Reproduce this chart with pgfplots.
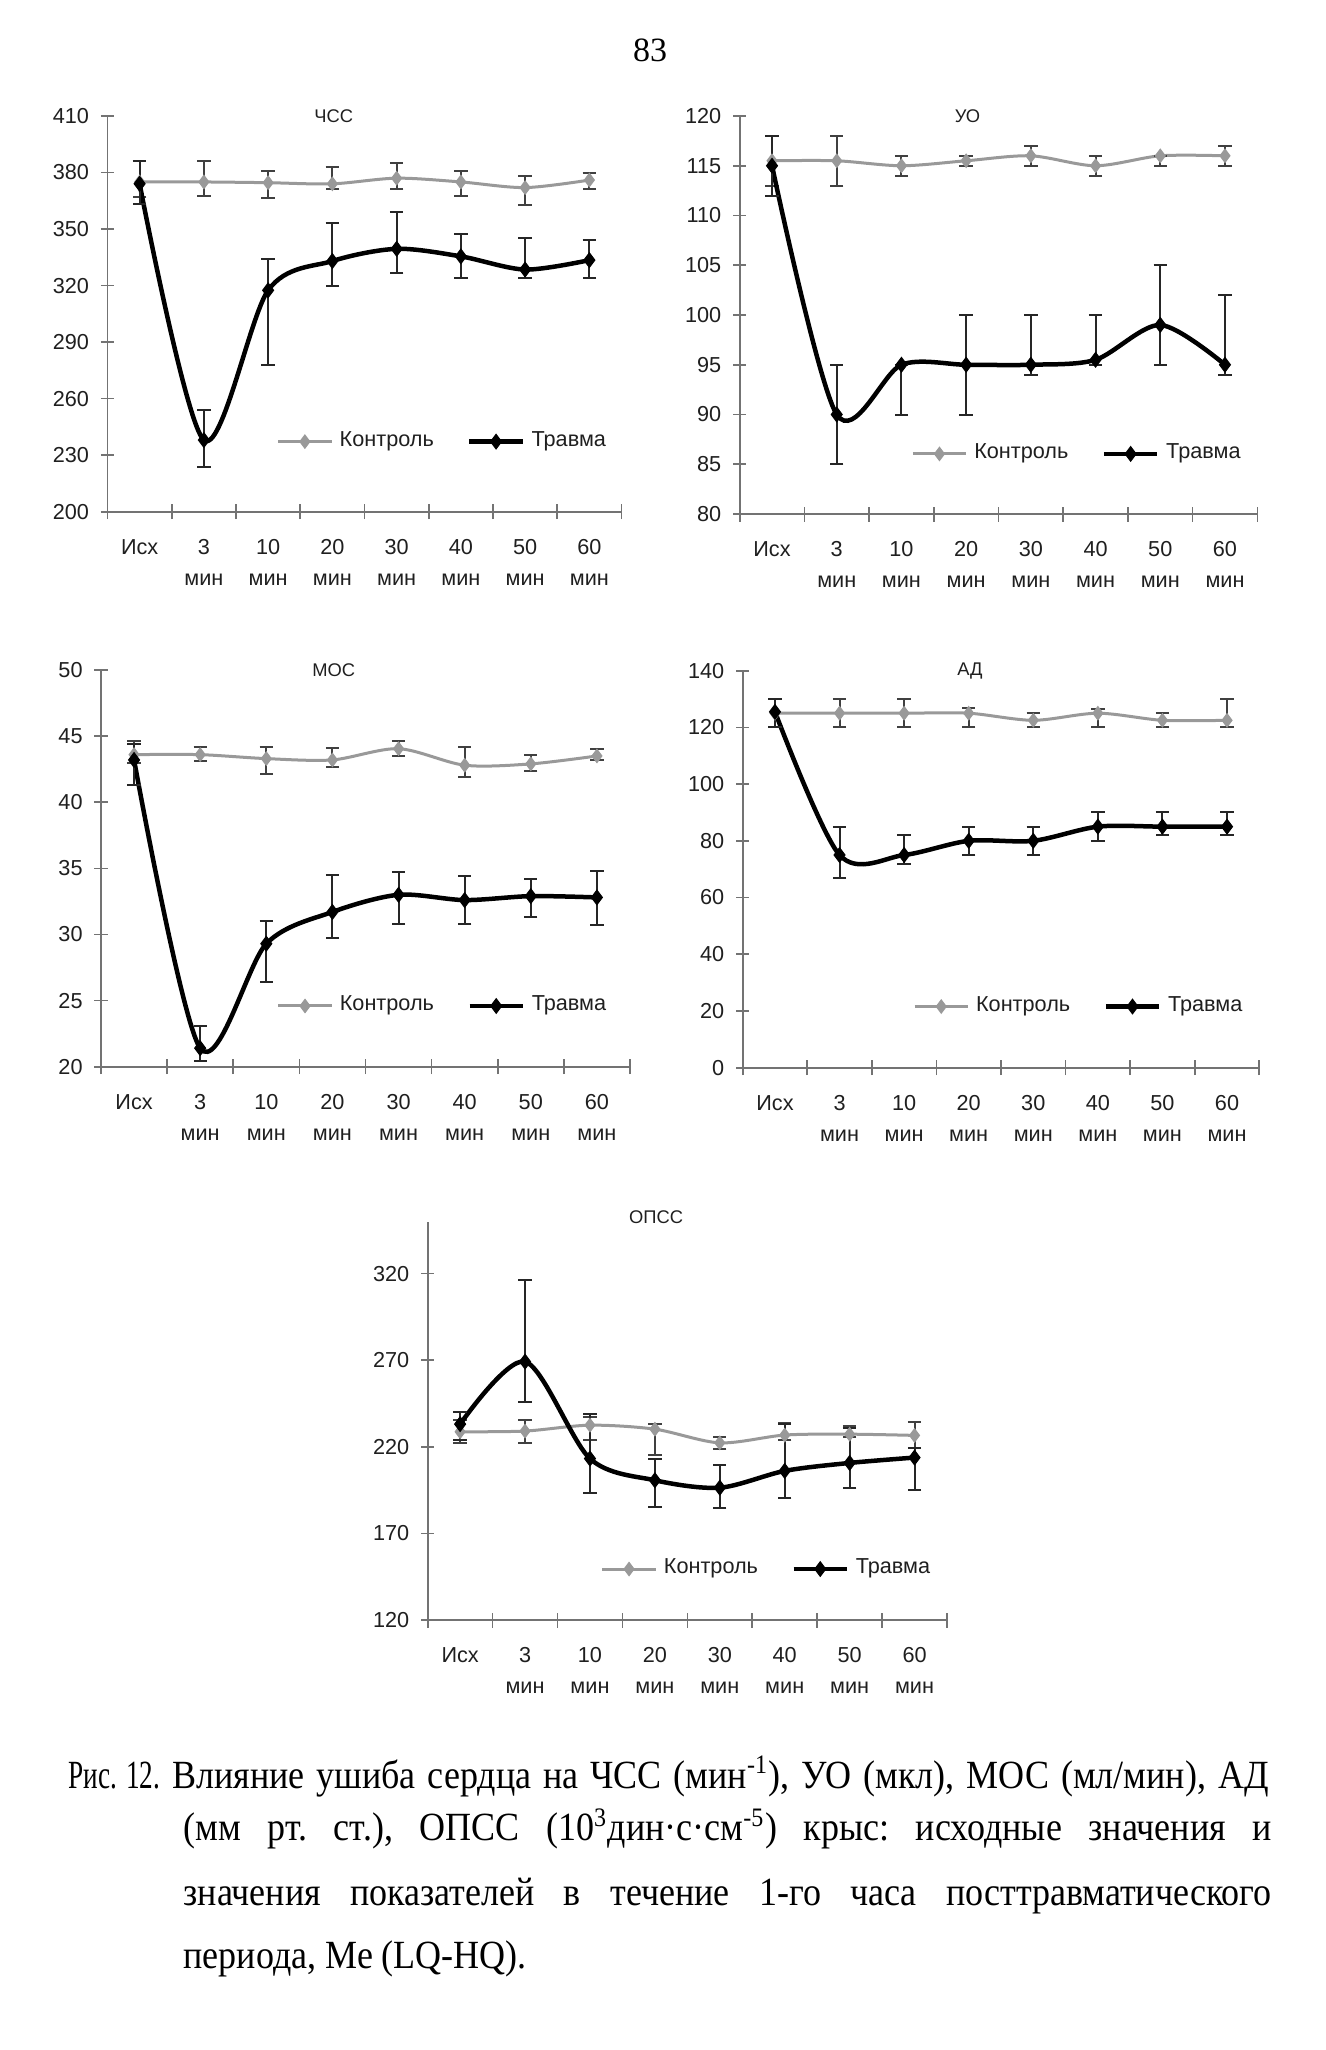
\documentclass[border=0pt]{standalone}
\usepackage{fontspec}
\setmainfont{Liberation Serif}
\newfontfamily\arial{Liberation Sans}
\newfontfamily\capfont[FakeStretch=0.9]{Liberation Serif}
\newfontfamily\risfont[FakeStretch=0.68]{Liberation Serif}
\usepackage{pgfplots}
\pgfplotsset{compat=1.18}
\definecolor{ctrl}{gray}{0.6}
\definecolor{axgray}{gray}{0.45}
\definecolor{txt}{gray}{0.12}
\pgfplotsset{
  panel/.style={
    scale only axis,
    axis lines*=left,
    axis line style={axgray, line width=0.5pt},
    xmin=-0.5, xmax=7.5,
    xtick={0,...,7},
    xticklabels={Исх, 3\\мин, 10\\мин, 20\\мин, 30\\мин, 40\\мин, 50\\мин, 60\\мин},
    major x tick style={draw=none},
    minor xtick={-0.5,0.5,...,7.5},
    minor tick length=4.5pt,
    major tick length=4pt,
    tick align=center,
    tick style={axgray, line width=0.5pt},
    xticklabel style={font=\arial\fontsize{6.5}{9.3}\selectfont, align=center, anchor=north, text=txt, yshift=-2.7pt},
    yticklabel style={font=\arial\fontsize{6.5}{8}\selectfont, text=txt},
    /pgf/number format/assume math mode=true,
    every axis title shift=0pt,
    title style={font=\arial\fontsize{5.5}{6}\selectfont, at={(axis description cs:0.44,1)}, anchor=center, text=txt},
    legend style={draw=none, fill=none, legend columns=2, font=\arial\fontsize{6.5}{8}\selectfont, anchor=center, text=txt,
      /tikz/every even column/.append style={column sep=8pt}},
    legend image code/.code={\draw[mark repeat=2,mark phase=2] plot coordinates {(0pt,0pt)(8pt,0pt)(16pt,0pt)};},
    clip=false,
  },
  ctrlplot/.style={ctrl, line width=0.9pt, smooth, mark=diamond*, mark size=2pt,
    mark options={fill=ctrl, draw=ctrl, line width=0.3pt},
    error bars/y dir=both, error bars/y explicit,
    error bars/error mark options={rotate=90, mark size=2pt, line width=0.6pt, black!75},
    error bars/error bar style={line width=0.6pt, black!75}},
  trplot/.style={black, line width=1.35pt, smooth, mark=diamond*, mark size=2.2pt,
    mark options={fill=black, draw=black, line width=0.3pt},
    error bars/y dir=both, error bars/y explicit,
    error bars/error mark options={rotate=90, mark size=2pt, line width=0.6pt, black!85},
    error bars/error bar style={line width=0.6pt, black!85}},
}
\begin{document}
\frenchspacing
\begin{tikzpicture}
\fill[white] (0,0) rectangle (397.8pt,-615pt);
\path[use as bounding box] (0,0) rectangle (397.8pt,-615pt);
\node[font=\fontsize{10.2}{12}\selectfont] at (195pt,-15pt) {83};

% ЧСС
\begin{axis}[panel, at={(32.25pt,-153.5pt)}, anchor=south west, width=154.2pt, height=118.7pt,
  ymin=200, ymax=410, ytick={200,230,...,410}, title={ЧСС},
  legend style={at={(axis description cs:0.656,0.177)}}]
\addplot[ctrlplot] table[x=x,y=y,y error plus=ep,y error minus=em,row sep=\\]{
x y ep em\\ 0 375 11 8\\ 1 375 11 7.5\\ 2 374.6 6.4 8.3\\ 3 374 9 3\\ 4 377 8 5.5\\ 5 375 6 7.5\\ 6 372 6 9\\ 7 376 4 5\\};
\addplot[trplot] table[x=x,y=y,y error plus=ep,y error minus=em,row sep=\\]{
x y ep em\\ 0 374 12 10.5\\ 1 238 16 14.5\\ 2 317.5 16.5 39.5\\ 3 333 20 13\\ 4 339.5 19.5 13\\ 5 335.5 12 11.5\\ 6 328.5 17 4.5\\ 7 333.5 10.5 9.5\\};
\legend{Контроль,Травма}
\end{axis}

% УО
\begin{axis}[panel, at={(221.9pt,-154.2pt)}, anchor=south west, width=155.3pt, height=119.4pt,
  ymin=80, ymax=120, ytick={80,85,...,120}, title={УО},
  legend style={at={(axis description cs:0.656,0.151)}}]
\addplot[ctrlplot] table[x=x,y=y,y error plus=ep,y error minus=em,row sep=\\]{
x y ep em\\ 0 115.5 2.5 2.5\\ 1 115.5 2.5 2.5\\ 2 115 1 1\\ 3 115.5 0.5 0.5\\ 4 116 1 1\\ 5 115 1 1\\ 6 116 0 1\\ 7 116 1 1\\};
\addplot[trplot] table[x=x,y=y,y error plus=ep,y error minus=em,row sep=\\]{
x y ep em\\ 0 115 3 3\\ 1 90 5 5\\ 2 95 0 5\\ 3 95 5 5\\ 4 95 5 1\\ 5 95.5 4.5 0.5\\ 6 99 6 4\\ 7 95 7 1\\};
\legend{Контроль,Травма}
\end{axis}

% МОС
\begin{axis}[panel, at={(30.3pt,-320pt)}, anchor=south west, width=158.7pt, height=119pt,
  ymin=20, ymax=50, ytick={20,25,...,50}, title={МОС},
  legend style={at={(axis description cs:0.65,0.153)}}]
\addplot[ctrlplot] table[x=x,y=y,y error plus=ep,y error minus=em,row sep=\\]{
x y ep em\\ 0 43.6 1.0 0.6\\ 1 43.6 0.6 0.5\\ 2 43.3 0.9 1.2\\ 3 43.2 0.9 0.5\\ 4 44.05 0.55 0.55\\ 5 42.8 1.4 0.9\\ 6 42.9 0.7 0.5\\ 7 43.5 0.55 0.3\\};
\addplot[trplot] table[x=x,y=y,y error plus=ep,y error minus=em,row sep=\\]{
x y ep em\\ 0 43.2 1.2 1.9\\ 1 21.4 1.7 1.0\\ 2 29.3 1.7 2.9\\ 3 31.7 2.8 2.0\\ 4 33.0 1.7 2.2\\ 5 32.6 1.8 1.8\\ 6 32.9 1.3 1.6\\ 7 32.8 2.0 2.1\\};
\legend{Контроль,Травма}
\end{axis}

% АД
\begin{axis}[panel, at={(222.8pt,-320.3pt)}, anchor=south west, width=155pt, height=119.1pt,
  ymin=0, ymax=140, ytick={0,20,...,140}, title={АД},
  legend style={at={(axis description cs:0.655,0.154)}}]
\addplot[ctrlplot] table[x=x,y=y,y error plus=ep,y error minus=em,row sep=\\]{
x y ep em\\ 0 125 5 5\\ 1 125 5 5\\ 2 125 5 5\\ 3 125 2 5\\ 4 122.5 2.5 2.5\\ 5 125 1.5 5\\ 6 122.5 2.5 2.5\\ 7 122.5 7.5 2.5\\};
\addplot[trplot] table[x=x,y=y,y error plus=ep,y error minus=em,row sep=\\]{
x y ep em\\ 0 125.5 4.5 5.5\\ 1 75 10 8\\ 2 75 7 3\\ 3 80 5 5\\ 4 80 5 5\\ 5 85 5 5\\ 6 85 5 3\\ 7 85 5 3\\};
\legend{Контроль,Травма}
\end{axis}

% ОПСС
\begin{axis}[panel, at={(128.3pt,-486pt)}, anchor=south west, width=155.8pt, height=119.5pt,
  ymin=120, ymax=350, ytick={120,170,...,320}, title={ОПСС},
  title style={at={(axis description cs:0.44,1.012)}},
  legend style={at={(axis description cs:0.657,0.128)}}]
\addplot[ctrlplot] table[x=x,y=y,y error plus=ep,y error minus=em,row sep=\\]{
x y ep em\\ 0 228.7 6.7 6.4\\ 1 229.1 6.3 6.6\\ 2 232.5 5 8.3\\ 3 230.2 2.9 15\\ 4 222.3 3.1 3.8\\ 5 226.8 6.7 2.8\\ 6 227.3 4.7 1.9\\ 7 226.6 7.9 7.2\\};
\addplot[trplot] table[x=x,y=y,y error plus=ep,y error minus=em,row sep=\\]{
x y ep em\\ 0 233.1 7.2 8.9\\ 1 269.2 46.9 23.2\\ 2 213.2 25.7 19.8\\ 3 200.7 12 15.4\\ 4 196.4 13 11.5\\ 5 206.1 27 15.4\\ 6 210.7 19.9 14.3\\ 7 213.8 5.6 18.5\\};
\legend{Контроль,Травма}
\end{axis}

% caption
\begin{scope}[every node/.style={inner sep=0pt, anchor=base west, font=\capfont\fontsize{12}{14}\selectfont}]
\node at (20.4pt,-536.4pt) {\hbox to 360pt{{\risfont Рис. 12.} Влияние ушиба сердца на ЧСС (мин\textsuperscript{-1}), УО (мкл), МОС (мл/мин), АД}};
\node at (54.9pt,-552.2pt) {\hbox to 326.4pt{(мм рт. ст.), ОПСС (10\textsuperscript{3}дин·с·см\textsuperscript{-5}) крыс: исходные значения и}};
\node at (54.9pt,-571.5pt) {\hbox to 326.4pt{значения показателей в течение 1-го часа посттравматического}};
\node at (54.9pt,-590.6pt) {периода, Ме (LQ-HQ).};
\end{scope}
\end{tikzpicture}
\end{document}
